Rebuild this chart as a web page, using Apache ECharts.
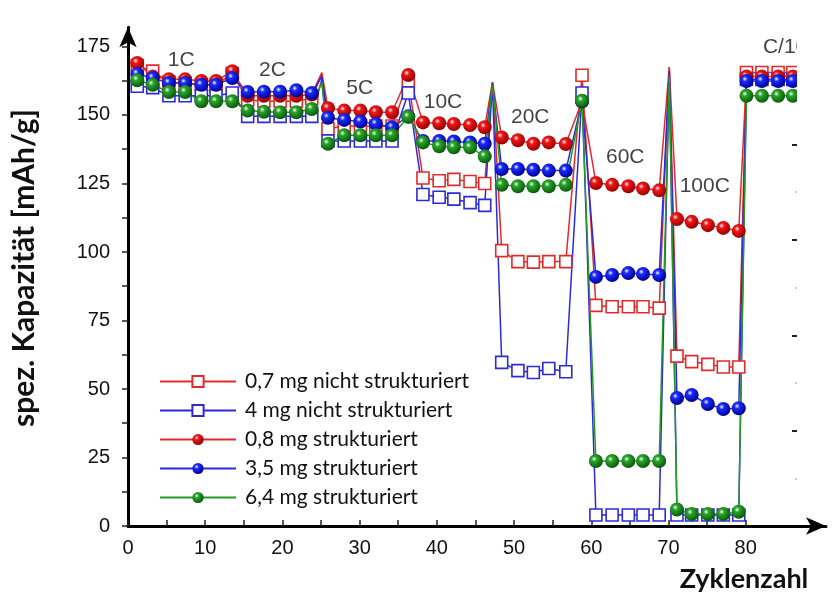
<!DOCTYPE html>
<html>
<head>
<meta charset="utf-8">
<script src="https://cdn.jsdelivr.net/npm/echarts@6/dist/echarts.min.js"></script>
<style>
html,body{margin:0;padding:0;background:#fff;}
#chart{width:838px;height:594px;}
</style>
</head>
<body>
<div id="chart"></div>
<script>
// Cycle numbers (x) shared by all series
const cycles = [1.2,3.2,5.3,7.4,9.5,11.4,13.5, 15.5,17.6,19.7,21.8,23.8, 25.1,
  25.9,28.0,30.1,32.1,34.2, 36.3, 38.2,40.3,42.2,44.3,46.2, 47.2,
  48.4,50.5,52.5,54.5,56.7, 58.8, 60.6,62.7,64.8,66.7,68.8, 70.1,
  71.1,73.0,75.1,77.1,79.1, 80.1,82.1,84.2,86.1];
// cycles drawn without a marker (transition spikes)
const markerless = [25.1, 47.2, 70.1];

const seriesNames = ['0,7 mg nicht strukturiert','4 mg nicht strukturiert','0,8 mg strukturiert','3,5 mg strukturiert','6,4 mg strukturiert'];

const red07 = [168,166,162,161.5,161,161,165, 155.5,155,155,155,156, 165,
  145,146,146,146,146, 162.5, 127,126,126.5,125.7,125, 162,
  100.5,96.5,96.3,96.5,96.5, 164.5, 80.5,80,80,80,79.5, 167.5,
  62,60,59,58,58, 165.5,165.5,165.5,165.5];
const blue4 = [160.5,160,157,157,157,157,158, 149.5,149.5,149.5,149.5,149.5, 163,
  140.5,140.5,140.5,140.5,140.5, 158, 121,120,119.3,118,117, 161.5,
  59.7,56.7,56,57.5,56.3, 158, 4,4,4,4,4, 165,
  4,4,4,4,4, 163,163,163,163];
const red08 = [169,164,163,163,162.4,162.4,166, 157,157,157,157,157.5, 165.5,
  152.5,151.6,151.6,151,151, 164.6, 147.3,147,146.7,146.3,145.5, 162,
  141.8,140.8,139.5,140,139.4, 155, 125.2,124.5,124,123.2,122.5, 167.5,
  112,111,109.8,108.8,107.7, 164,164,164,164];
const blue35 = [165,163.5,161.7,161.7,161,161,163.5, 158.4,158.5,158.5,159,158, 164,
  149,148.2,147.6,146.7,145.5, 149.5, 140.5,140.5,140.3,140,139.5, 161.5,
  130.3,130.3,130,129.7,129.7, 155, 90.9,91.6,92.3,92,91.6, 166,
  46.7,47.8,44.5,42.7,43, 162.4,162.4,162.4,162.4];
const green64 = [162.7,161,158.4,158.4,155,155,155, 151.6,151.2,151,151,152.2, 162,
  139.5,142.6,142.6,142.6,142.6, 149.3, 140,138.6,138.2,138.2,134.9, 161,
  124.5,124,124,124,124.5, 155.2, 23.7,23.7,23.7,23.7,23.7, 164,
  6,4.4,4.4,4.4,5.2, 157,157,157,157];

// C-rate annotations
const rateLabels = ['1C','2C','5C','10C','20C','60C','100C','C/10'];
const rateX = [6.9,18.7,30,40.8,52.1,64.4,74.7,85.1];
const rateY = [170,166.4,159.9,154.7,149.3,134.7,124,174.8];

const xTicks = [0,5,10,15,20,25,30,35,40,45,50,55,60,65,70,75,80];
const xLabels = [0,10,20,30,40,50,60,70,80];
const yTicks = [0,12.5,25,37.5,50,62.5,75,87.5,100,112.5,125,137.5,150,162.5,175];
const yLabels = [0,25,50,75,100,125,150,175];

function build(vals){
  return cycles.map((c,i)=>{
    const d = {value:[c, vals[i]]};
    if (markerless.indexOf(c) >= 0) d.symbol = 'none';
    return d;
  });
}
function ball(base, dark){
  return {type:'radial', x:0.38, y:0.35, r:0.65, colorStops:[
    {offset:0, color:'#ffffff'},{offset:0.28, color:base},{offset:1, color:dark}]};
}
const RED='#e22a2a', BLUE='#2a2ad8', GREEN='#259a25';

function sq(name, vals, col){
  return {name, type:'line', data:build(vals), symbol:'rect', symbolSize:12,
    lineStyle:{color:col, width:1.5}, itemStyle:{color:'#fff', borderColor:col, borderWidth:1.6},
    emphasis:{disabled:true}};
}
function circ(name, vals, col, base, dark){
  return {name, type:'line', data:build(vals), symbol:'circle', symbolSize:14,
    lineStyle:{color:col, width:1.5}, itemStyle:{color:ball(base,dark), borderWidth:0},
    emphasis:{disabled:true}};
}

const chart = echarts.init(document.getElementById('chart'));
const FONT = 'Arial, "Liberation Sans", sans-serif';
chart.setOption({
  animation:false,
  backgroundColor:'#fff',
  grid:{left:128, right:12, top:27.3, bottom:68},
  xAxis:{type:'value', min:0, max:90.4, interval:10,
    axisLine:{lineStyle:{color:'#000', width:3}, symbol:['none','arrow'], symbolSize:[13,20]},
    axisTick:{inside:true, length:6, lineStyle:{color:'#222', width:1.5}, customValues:xTicks},
    axisLabel:{customValues:xLabels, fontSize:20, color:'#111', margin:12, fontFamily:FONT},
    splitLine:{show:false}},
  yAxis:{type:'value', min:0, max:182, interval:25,
    axisLine:{lineStyle:{color:'#000', width:3}, symbol:['none','arrow'], symbolSize:[13,20]},
    axisTick:{inside:false, length:6, lineStyle:{color:'#222', width:1.5}, customValues:yTicks},
    axisLabel:{customValues:yLabels, fontSize:20, color:'#111', margin:18, fontFamily:FONT},
    splitLine:{show:false}},
  legend:{orient:'vertical', left:154, top:366, itemWidth:76, itemHeight:14, itemGap:8,
    data:seriesNames, selectedMode:false,
    textStyle:{fontFamily:'Lato', fontSize:21, color:'#111', padding:[0,0,0,4]}},
  series:[
    sq(seriesNames[0], red07, RED),
    sq(seriesNames[1], blue4, BLUE),
    circ(seriesNames[2], red08, RED, '#f01818', '#9a0000'),
    circ(seriesNames[3], blue35, BLUE, '#1a2cff', '#00008f'),
    circ(seriesNames[4], green64, GREEN, '#2aa52a', '#0a5a0a'),
    {type:'scatter', silent:true, symbolSize:0, z:1,
      data:rateX.map((x,i)=>({value:[x, rateY[i]], name:rateLabels[i]})),
      label:{show:true, position:'inside', formatter:'{b}', fontSize:21, color:'#111', fontFamily:FONT}}
  ],
  graphic:[
    {type:'rect', z:100, shape:{x:797, y:18, width:41, height:497}, style:{fill:'#fff'}},
    {type:'line', z:101, shape:{x1:792,y1:145,x2:797,y2:145}, style:{stroke:'#222', lineWidth:2}},
    {type:'line', z:101, shape:{x1:792,y1:240,x2:797,y2:240}, style:{stroke:'#222', lineWidth:2}},
    {type:'line', z:101, shape:{x1:792,y1:336,x2:797,y2:336}, style:{stroke:'#222', lineWidth:2}},
    {type:'line', z:101, shape:{x1:792,y1:431,x2:797,y2:431}, style:{stroke:'#222', lineWidth:2}},
    {type:'line', z:101, shape:{x1:795,y1:192,x2:797,y2:192}, style:{stroke:'#999', lineWidth:1}},
    {type:'line', z:101, shape:{x1:795,y1:288,x2:797,y2:288}, style:{stroke:'#999', lineWidth:1}},
    {type:'line', z:101, shape:{x1:795,y1:383,x2:797,y2:383}, style:{stroke:'#999', lineWidth:1}},
    {type:'line', z:101, shape:{x1:795,y1:479,x2:797,y2:479}, style:{stroke:'#999', lineWidth:1}},
    {type:'text', z:102, x:24, y:268, rotation:Math.PI/2,
      style:{text:'spez. Kapazität [mAh/g]', fontFamily:'Lato', fontWeight:'bold', fontSize:30, fill:'#111', align:'center', verticalAlign:'middle'}},
    {type:'text', z:102, x:744, y:579,
      style:{text:'Zyklenzahl', fontFamily:'Lato', fontWeight:'bold', fontSize:27, fill:'#111', align:'center', verticalAlign:'middle'}}
  ]
});
</script>
</body>
</html>
